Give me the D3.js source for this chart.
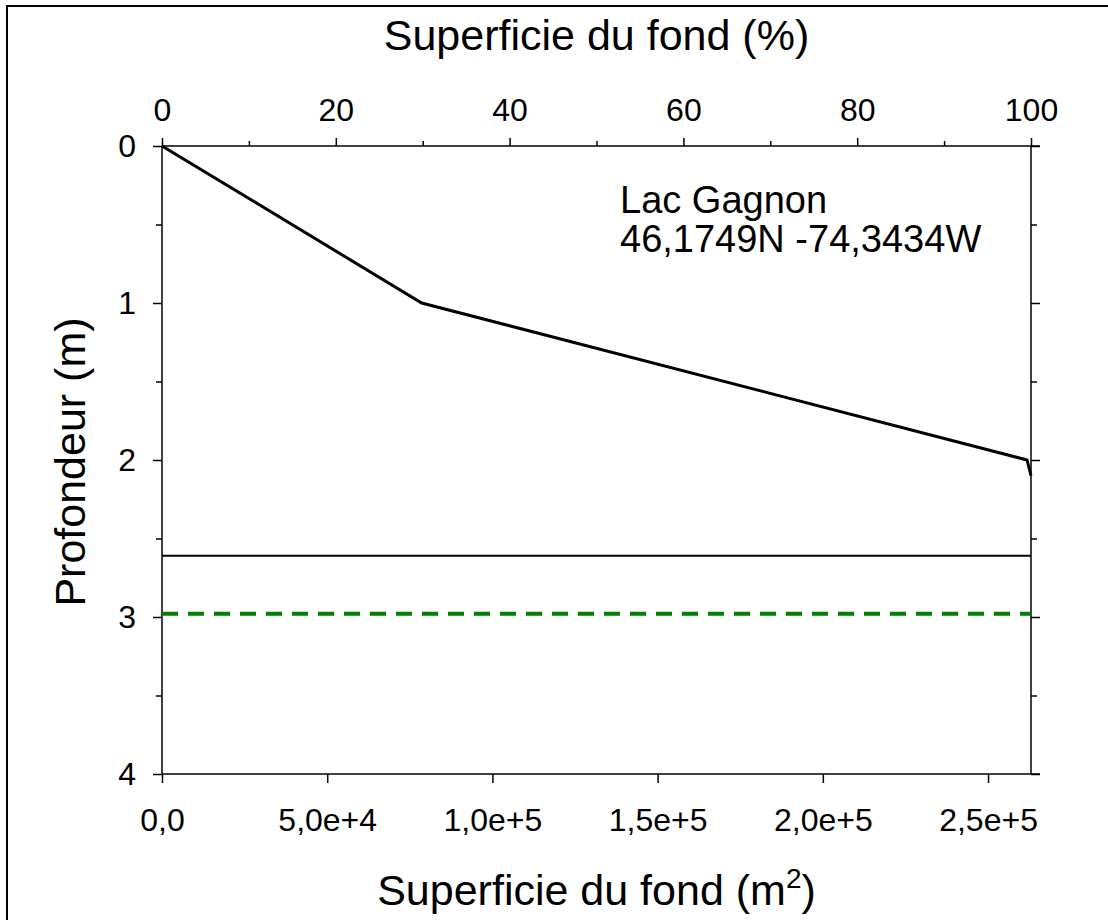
<!DOCTYPE html>
<html>
<head>
<meta charset="utf-8">
<script src="https://cdn.jsdelivr.net/npm/d3@7"></script>
<style>
  body { margin: 0; background: #fff; }
  svg text { font-family: Arial, "Liberation Sans", sans-serif; fill: #000; }
</style>
</head>
<body>
<svg id="chart" width="1108" height="920"></svg>
<script>
// hypsometric curve (area of bottom vs depth)
const areaM2 = [0, 78600, 261800, 263000];
const depthM = [0, 1, 2, 2.1];
const areaMax = 263000;

// horizontal reference lines
const solidDepth = 2.61;
const dashedDepth = 2.98;

const lakeName = "Lac Gagnon";
const lakeCoords = "46,1749N -74,3434W";

const pctTicks = [0, 20, 40, 60, 80, 100];
const pctMinor = [10, 30, 50, 70, 90];
const areaTicks = [0, 50000, 100000, 150000, 200000, 250000];
const areaTickLabels = ["0,0", "5,0e+4", "1,0e+5", "1,5e+5", "2,0e+5", "2,5e+5"];
const depthTicks = [0, 1, 2, 3, 4];
const depthMinor = [0.5, 1.5, 2.5, 3.5];

const svg = d3.select("#chart");

const plotLeft = 162, plotRight = 1031, plotTop = 146, plotBottom = 774;
const axisEnd = 1040;

var x = d3.scaleLinear().domain([0, areaMax]).range([plotLeft, plotRight]);
var xPct = d3.scaleLinear().domain([0, 100]).range([plotLeft, plotRight]);
var y = d3.scaleLinear().domain([0, 4]).range([plotTop, plotBottom]);

// outer frame
svg.append("rect")
    .attr("x", 7).attr("y", 6)
    .attr("width", 1120).attr("height", 930)
    .attr("fill", "none")
    .attr("stroke", "#000")
    .attr("stroke-width", 2);

function styleAxis(g, fontSize) {
    g.select(".domain").remove();
    g.selectAll("line").attr("stroke", "#000").attr("stroke-width", 1.5);
    g.selectAll("text")
        .style("font-size", fontSize + "px")
        .attr("fill", "#000")
        .style("font-family", "Arial, 'Liberation Sans', sans-serif");
}

// top axis (%)
svg.append("g")
    .attr("transform", `translate(0,${plotTop})`)
    .call(d3.axisTop(xPct).tickValues(pctTicks).tickSize(8).tickPadding(17))
    .call(g => styleAxis(g, 32));
svg.append("g")
    .attr("transform", `translate(0,${plotTop})`)
    .call(d3.axisTop(xPct).tickValues(pctMinor).tickSize(5).tickFormat(""))
    .call(g => styleAxis(g, 32));

// bottom axis (m2)
svg.append("g")
    .attr("transform", `translate(0,${plotBottom})`)
    .call(d3.axisBottom(x).tickValues(areaTicks).tickSize(9).tickPadding(25)
        .tickFormat((d, i) => areaTickLabels[i]))
    .call(g => styleAxis(g, 32));

// left axis (depth)
svg.append("g")
    .attr("transform", `translate(${plotLeft},0)`)
    .call(d3.axisLeft(y).tickValues(depthTicks).tickSize(9).tickPadding(17)
        .tickFormat(d3.format("d")))
    .call(g => styleAxis(g, 32));
svg.append("g")
    .attr("transform", `translate(${plotLeft},0)`)
    .call(d3.axisLeft(y).tickValues(depthMinor).tickSize(6).tickFormat(""))
    .call(g => styleAxis(g, 32));

// right axis (no labels)
svg.append("g")
    .attr("transform", `translate(${plotRight},0)`)
    .call(d3.axisRight(y).tickValues(depthTicks).tickSize(9).tickFormat(""))
    .call(g => styleAxis(g, 32));
svg.append("g")
    .attr("transform", `translate(${plotRight},0)`)
    .call(d3.axisRight(y).tickValues(depthMinor).tickSize(6).tickFormat(""))
    .call(g => styleAxis(g, 32));

// axis lines
var frame = svg.append("g").attr("stroke", "#000").attr("stroke-width", 1.5);
frame.append("line").attr("x1", plotLeft).attr("x2", axisEnd).attr("y1", plotTop).attr("y2", plotTop);
frame.append("line").attr("x1", plotLeft).attr("x2", axisEnd).attr("y1", plotBottom).attr("y2", plotBottom);
frame.append("line").attr("x1", plotLeft).attr("x2", plotLeft).attr("y1", plotTop).attr("y2", plotBottom);
frame.append("line").attr("x1", plotRight).attr("x2", plotRight).attr("y1", plotTop).attr("y2", plotBottom);

// reference lines
svg.append("line")
    .attr("x1", x(0)).attr("x2", x(areaMax))
    .attr("y1", y(solidDepth)).attr("y2", y(solidDepth))
    .attr("stroke", "#000").attr("stroke-width", 2);

svg.append("line")
    .attr("x1", x(0)).attr("x2", x(areaMax))
    .attr("y1", y(dashedDepth)).attr("y2", y(dashedDepth))
    .attr("stroke", "#008000").attr("stroke-width", 4)
    .attr("stroke-dasharray", "16,10");

// curve
var line = d3.line()
    .x((d, i) => x(areaM2[i]))
    .y((d, i) => y(depthM[i]));

svg.append("path")
    .datum(areaM2)
    .attr("d", line)
    .attr("fill", "none")
    .attr("stroke", "#000")
    .attr("stroke-width", 3)
    .attr("stroke-linejoin", "miter");

// annotation
svg.append("text").attr("x", 620).attr("y", 213)
    .style("font-size", "38px").text(lakeName);
svg.append("text").attr("x", 620).attr("y", 252)
    .style("font-size", "38px").text(lakeCoords);

// titles
svg.append("text")
    .attr("x", (plotLeft + plotRight) / 2).attr("y", 50)
    .attr("text-anchor", "middle")
    .style("font-size", "43px")
    .text("Superficie du fond (%)");

svg.append("text")
    .attr("transform", `translate(85,${(plotTop + plotBottom) / 2 + 2}) rotate(-90)`)
    .attr("text-anchor", "middle")
    .style("font-size", "43px")
    .text("Profondeur (m)");

var xt = svg.append("text")
    .attr("x", (plotLeft + plotRight) / 2).attr("y", 905)
    .attr("text-anchor", "middle")
    .style("font-size", "43px");
xt.append("tspan").text("Superficie du fond (m");
xt.append("tspan").attr("dy", -17).style("font-size", "28px").text("2");
xt.append("tspan").attr("dy", 17).text(")");
</script>
</body>
</html>
